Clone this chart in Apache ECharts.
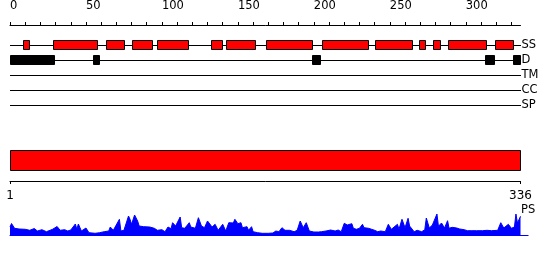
<!DOCTYPE html>
<html><head><meta charset="utf-8">
<script src="https://cdn.jsdelivr.net/npm/echarts@6/dist/echarts.min.js"></script>
<style>html,body{margin:0;padding:0;background:#fff}#c{width:550px;height:260px}</style>
</head><body><div id="c"></div>
<script>
const proteinLength = 336;
const trackNames = ['SS', 'D', 'TM', 'CC', 'SP'];
const ssSegments = [[8.5,13],[28,58],[63,76],[80.5,94],[97,118],[132.5,140],[142,162],[168.5,199.5],[205.5,236],[240,265.5],[269.5,273.5],[278.5,284],[288,314],[319,331.5]];
const disorderSegments = [[0,29.5],[54.5,59],[199,205],[312.5,319],[331,336]];
const domainSegments = [[1,336]];
const topTickValues = [0,10,20,30,40,50,60,70,80,90,100,110,120,130,140,150,160,170,180,190,200,210,220,230,240,250,260,270,280,290,300,310,320,330];
const topLabelValues = [0,50,100,150,200,250,300];
const bottomLabelValues = [1,336];
const psResidues = [0,1,2,3,4,6,10,13,16,18,21,24,28,31,33,36,38,40,43,44,45,47,48,50,52,56,59,62,65,66,67,68,69,72,73,75,78,79,80,82,84,85,88,92,95,97,100,102,104,106,107,109,112,113,115,118,119,122,124,126,128,130,131,133,135,136,137,140,142,144,147,148,150,152,153,156,157,159,160,163,166,170,173,175,177,179,181,184,187,189,191,193,195,197,200,203,205,208,211,214,216,218,220,222,225,226,228,230,232,233,236,238,240,242,244,247,249,251,252,255,256,258,260,262,263,266,268,269,271,272,273,274,276,278,281,282,284,286,288,289,291,292,294,296,299,301,304,307,308,311,314,317,321,323,325,326,328,330,332,333,334,336];
const psScores = [8,11.5,12,6.7,5,6,5.7,4.7,6.5,4,5.3,3.3,5.7,8.5,4.7,5.3,4,5,11,5.7,11,4,3.3,7,2.3,1.7,2.3,3.3,4,8,6.7,4.7,5.7,15.7,4,4.7,19,15.7,10.7,20,14,9,8.3,8,6.7,4.7,5.3,3.3,8,6.3,12.3,9,18,7.3,6.7,12.3,8,6.7,17.3,9,7.3,14,12.3,8,10.7,10.7,4.7,10.7,4,12.3,12,15.7,11.3,12.3,7.3,8.3,4.7,8.3,3.3,2.3,1.7,1.7,2,4,3.3,7.3,4.7,4.7,3.3,4.7,14,7.3,12.3,4,3,3,3.3,4,5,4,5,3.3,11.7,10,11.3,6.7,5.7,6.7,10.7,7.3,6.7,5.7,4.7,3.3,4,3.3,10.7,5.7,4,10.7,5.7,15.7,7.3,16.7,9,3.3,4.7,6,3.3,4,5.3,17,7,10,21,8.7,12,7,14.3,6.7,7.7,8.7,7,6,5.3,4.3,4.3,4.3,6,4.3,4.7,4.3,4.7,12.3,7,8,10.7,6.7,8,21,12,18.7];

const FONT = 'DejaVu Sans';
const chart = echarts.init(document.getElementById('c'), null, {renderer: 'canvas'});

function backboneRender(params, api) {
  const a = api.coord([api.value(0), api.value(2)]);
  const b = api.coord([api.value(1), api.value(2)]);
  const y = Math.round(a[1]) + 0.5;
  return {type: 'line', shape: {x1: Math.round(a[0]), y1: y, x2: Math.round(b[0]), y2: y}, style: {stroke: '#000', lineWidth: 1}};
}
function boxRender(fill) {
  return function (params, api) {
    const a = api.coord([api.value(0), api.value(2)]);
    const b = api.coord([api.value(1), api.value(2)]);
    const x0 = Math.round(a[0]), x1 = Math.round(b[0]);
    const cy = Math.round(a[1]);
    return {type: 'rect', shape: {x: x0 + 0.5, y: cy - 4.5, width: x1 - x0 - 1, height: 9}, style: {fill: fill, stroke: '#000', lineWidth: 1}};
  };
}
function domainRender(params, api) {
  const a = api.coord([api.value(0), 0]);
  const b = api.coord([api.value(1), 0]);
  const x0 = Math.round(a[0]), x1 = Math.round(b[0]);
  const top = Math.round(params.coordSys.y);
  return {type: 'rect', shape: {x: x0 + 0.5, y: top + 0.5, width: x1 - x0 - 1, height: 20}, style: {fill: '#ff0000', stroke: '#000', lineWidth: 1}};
}

const option = {
  animation: false,
  backgroundColor: '#fff',
  grid: [
    {left: 10, top: 15, width: 510.5, height: 10},
    {left: 10, top: 37.5, width: 510.5, height: 75},
    {left: 10, top: 150, width: 510.5, height: 31},
    {left: 10, top: 210, width: 518.1, height: 25}
  ],
  xAxis: [
    {gridIndex: 0, type: 'value', position: 'top', min: 0, max: proteinLength,
      axisLine: {show: true, lineStyle: {color: '#000', width: 1}},
      axisTick: {show: true, customValues: topTickValues, length: 3, lineStyle: {color: '#000'}},
      axisLabel: {show: true, customValues: topLabelValues, align: 'left', margin: 3, fontSize: 11.5, fontFamily: FONT, color: '#000'},
      splitLine: {show: false}},
    {gridIndex: 1, type: 'value', min: 0, max: proteinLength, show: false},
    {gridIndex: 2, type: 'value', position: 'bottom', min: 1, max: proteinLength,
      axisLine: {show: true, lineStyle: {color: '#000', width: 1}},
      axisTick: {show: true, customValues: bottomLabelValues, length: 3, lineStyle: {color: '#000'}},
      axisLabel: {show: true, customValues: bottomLabelValues, margin: 9, fontSize: 12, fontFamily: FONT, color: '#000'},
      splitLine: {show: false}},
    {gridIndex: 3, type: 'value', min: 0, max: 341,
      axisLine: {show: true, onZero: false, lineStyle: {color: '#0000ff', width: 1}},
      axisTick: {show: false}, axisLabel: {show: false}, splitLine: {show: false}}
  ],
  yAxis: [
    {gridIndex: 0, type: 'value', show: false},
    {gridIndex: 1, type: 'category', data: trackNames, inverse: true, position: 'right',
      axisLine: {show: false}, axisTick: {show: false}, splitLine: {show: false},
      axisLabel: {interval: 0, hideOverlap: false, margin: 1, align: 'left', fontSize: 11.5, fontFamily: FONT, color: '#000'}},
    {gridIndex: 2, type: 'value', min: 0, max: 1, show: false},
    {gridIndex: 3, type: 'value', min: 0, max: 25, show: false}
  ],
  graphic: [
    {type: 'text', left: 521, top: 204, style: {text: 'PS', fill: '#000', fontSize: 11.5, fontFamily: FONT}}
  ],
  series: [
    {type: 'custom', name: 'backbone', xAxisIndex: 1, yAxisIndex: 1, encode: {x: [0, 1], y: 2},
      renderItem: backboneRender, data: trackNames.map(n => [0, proteinLength, n]), z: 1},
    {type: 'custom', name: 'SS', xAxisIndex: 1, yAxisIndex: 1, encode: {x: [0, 1], y: 2},
      renderItem: boxRender('#ff0000'), data: ssSegments.map(s => [s[0], s[1], 'SS']), z: 2},
    {type: 'custom', name: 'D', xAxisIndex: 1, yAxisIndex: 1, encode: {x: [0, 1], y: 2},
      renderItem: boxRender('#000000'), data: disorderSegments.map(s => [s[0], s[1], 'D']), z: 2},
    {type: 'custom', name: 'domain', xAxisIndex: 2, yAxisIndex: 2, encode: {x: [0, 1]},
      renderItem: domainRender, data: domainSegments.map(s => [s[0], s[1]]), z: 2},
    {type: 'line', name: 'PS', xAxisIndex: 3, yAxisIndex: 3, showSymbol: false, symbol: 'none',
      data: psResidues.map((r, i) => [r, psScores[i]]),
      lineStyle: {color: '#0000ff', width: 1}, itemStyle: {color: '#0000ff'},
      areaStyle: {color: '#0000ff', opacity: 1}, z: 2}
  ]
};
chart.setOption(option);
</script></body></html>
